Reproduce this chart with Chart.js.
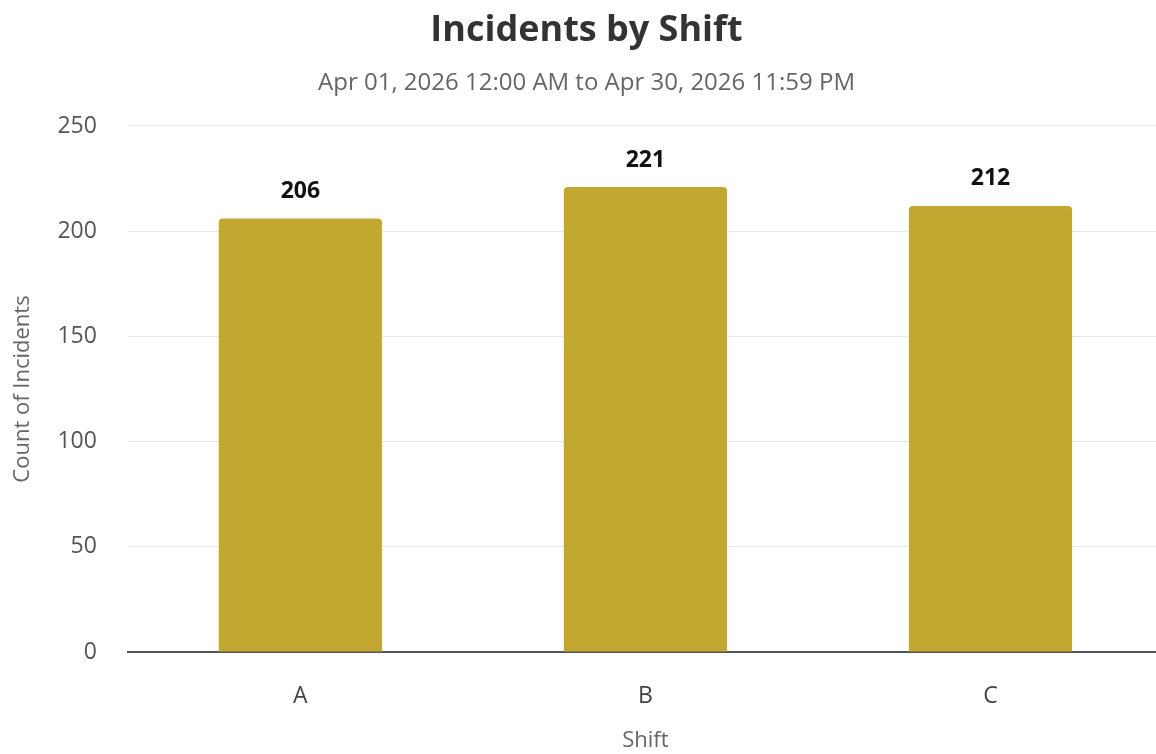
<!DOCTYPE html>
<html>
<head>
<meta charset="utf-8">
<script src="https://cdn.jsdelivr.net/npm/chart.js@4.4.1/dist/chart.umd.min.js"></script>
<style>
  html, body { margin: 0; padding: 0; background: #fff; overflow: hidden; }
  #wrap { width: 1164px; height: 754px; }
</style>
</head>
<body>
<div id="wrap"><canvas id="chartShift"></canvas></div>
<script>
// Incidents by Shift - Daten
const shifts = ["A", "B", "C"];
const incidentCounts = [206, 221, 212];
const yTicks = [0, 50, 100, 150, 200, 250];

const FONT = "'Open Sans', 'Noto Sans', sans-serif";

// Werte über den Balken
const valueLabels = {
  id: "valueLabels",
  afterDatasetsDraw(chart) {
    const ctx = chart.ctx;
    const meta = chart.getDatasetMeta(0);
    ctx.save();
    ctx.font = "bold 23px " + FONT;
    ctx.fillStyle = "#111";
    ctx.textAlign = "center";
    ctx.textBaseline = "middle";
    meta.data.forEach((bar, i) => {
      ctx.fillText(String(chart.data.datasets[0].data[i]), bar.x, bar.y - 27);
    });
    ctx.restore();
  }
};

new Chart(document.getElementById("chartShift"), {
  type: "bar",
  data: {
    labels: shifts,
    datasets: [{
      label: "Count of Incidents",
      data: incidentCounts,
      backgroundColor: "#C2A830",
      borderRadius: { topLeft: 4, topRight: 4 },
      borderSkipped: "bottom",
      categoryPercentage: 1,
      barPercentage: 0.473
    }]
  },
  options: {
    maintainAspectRatio: false,
    responsive: true,
    animation: false,
    layout: { padding: { left: 10, right: 1, top: 0, bottom: 0 } },
    plugins: {
      legend: { display: false },
      tooltip: { enabled: false },
      title: {
        display: true,
        text: "Incidents by Shift",
        color: "#333",
        font: { family: FONT, size: 36, weight: "bold" },
        padding: { top: 9, bottom: 17 }
      },
      subtitle: {
        display: true,
        text: "Apr 01, 2026 12:00 AM to Apr 30, 2026 11:59 PM",
        color: "#666",
        font: { family: FONT, size: 24 },
        padding: { bottom: 28 }
      }
    },
    scales: {
      y: {
        min: 0,
        max: 250,
        afterBuildTicks: (axis) => { axis.ticks = yTicks.map(v => ({ value: v })); },
        border: { display: false },
        grid: { color: "#e6e6e6", drawTicks: true, tickLength: 31, tickColor: "transparent" },
        ticks: { color: "#555", padding: 0, font: { family: FONT, size: 23 } },
        title: {
          display: true,
          text: "Count of Incidents",
          color: "#666",
          font: { family: FONT, size: 22 },
          padding: { top: 0, bottom: 21 }
        }
      },
      x: {
        border: { display: true, color: "#555", width: 2 },
        grid: { display: false, drawTicks: true, tickLength: 31 },
        ticks: { color: "#444", padding: 0, font: { family: FONT, size: 23 } },
        title: {
          display: true,
          text: "Shift",
          color: "#666",
          font: { family: FONT, size: 22 },
          padding: { top: 17, bottom: 0 }
        }
      }
    }
  },
  plugins: [valueLabels]
});
</script>
</body>
</html>
